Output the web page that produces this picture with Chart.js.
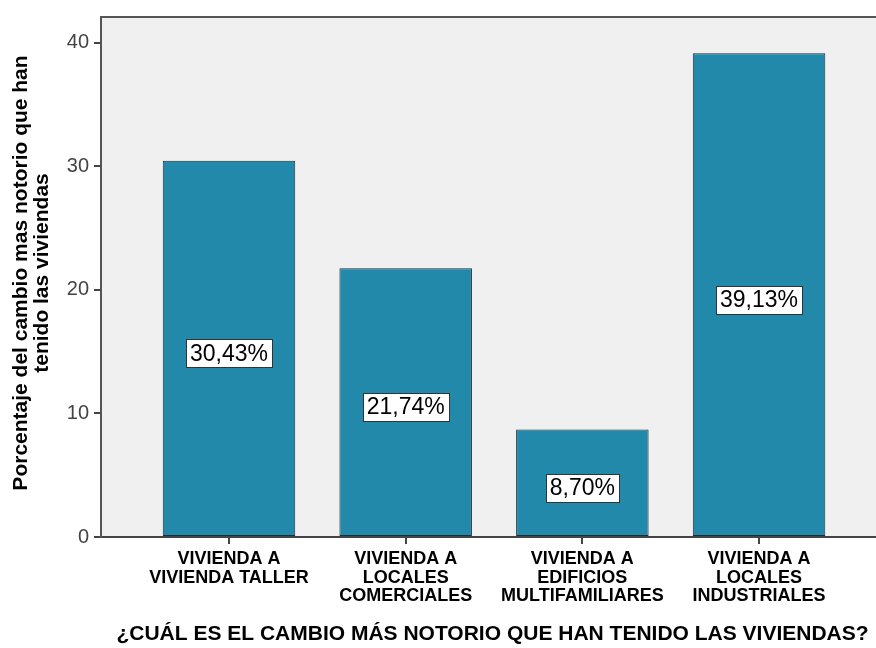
<!DOCTYPE html>
<html>
<head>
<meta charset="utf-8">
<script src="https://cdn.jsdelivr.net/npm/chart.js@4"></script>
<style>
  body { margin: 0; background: #fff; overflow: hidden; }
  #grafico { display: block; }
</style>
</head>
<body>
<canvas id="grafico" width="876" height="648"></canvas>
<script>
// categorías (una línea por elemento del arreglo)
const categorias = [
    ['VIVIENDA A', 'VIVIENDA TALLER'],
    ['VIVIENDA A', 'LOCALES', 'COMERCIALES'],
    ['VIVIENDA A', 'EDIFICIOS', 'MULTIFAMILIARES'],
    ['VIVIENDA A', 'LOCALES', 'INDUSTRIALES']
];
const porcentajes = [30.43, 21.74, 8.70, 39.13];
const etiquetas = ['30,43%', '21,74%', '8,70%', '39,13%'];
const marcasY = [0, 10, 20, 30, 40];

const tituloX = '¿CUÁL ES EL CAMBIO MÁS NOTORIO QUE HAN TENIDO LAS VIVIENDAS?';
const tituloY = ['Porcentaje del cambio mas notorio que han', 'tenido las viviendas'];

const FUENTE = '"Liberation Sans", Arial, sans-serif';

// fondo gris del área de trazado y borde superior
const fondoPlugin = {
    id: 'fondo',
    beforeDraw(chart) {
        const { ctx, chartArea: a } = chart;
        ctx.save();
        ctx.fillStyle = '#f0f0f0';
        ctx.fillRect(a.left, a.top, a.right - a.left, a.bottom - a.top);
        ctx.restore();
    },
    afterDraw(chart) {
        const { ctx, chartArea: a } = chart;
        ctx.save();
        ctx.strokeStyle = '#555';
        ctx.lineWidth = 2;
        ctx.beginPath();
        ctx.moveTo(a.left, a.top);
        ctx.lineTo(a.right, a.top);
        ctx.stroke();
        ctx.restore();
    }
};

// etiquetas con recuadro blanco en el centro de cada barra
const etiquetasPlugin = {
    id: 'etiquetas',
    afterDatasetsDraw(chart) {
        const { ctx } = chart;
        const meta = chart.getDatasetMeta(0);
        ctx.save();
        ctx.font = '23px ' + FUENTE;
        ctx.textAlign = 'center';
        ctx.textBaseline = 'middle';
        meta.data.forEach((bar, i) => {
            const texto = etiquetas[i];
            const cx = bar.x;
            const cy = (bar.y + bar.base) / 2 + 5;
            const w = ctx.measureText(texto).width + 8;
            const h = 28;
            const x0 = Math.round(cx - w / 2);
            const y0 = Math.round(cy - h / 2);
            ctx.fillStyle = '#fff';
            ctx.fillRect(x0, y0, Math.round(w), h);
            ctx.strokeStyle = '#333';
            ctx.lineWidth = 1;
            ctx.strokeRect(x0 + 0.5, y0 + 0.5, Math.round(w), h);
            ctx.fillStyle = '#000';
            ctx.fillText(texto, cx, cy + 1);
        });
        ctx.restore();
    }
};

// títulos de los ejes
const titulosPlugin = {
    id: 'titulos',
    afterDraw(chart) {
        const { ctx, chartArea: a } = chart;
        ctx.save();
        ctx.fillStyle = '#000';
        ctx.textAlign = 'center';
        ctx.textBaseline = 'middle';
        ctx.font = 'bold 21px ' + FUENTE;
        ctx.fillText(tituloX, (a.left + a.right) / 2 + 4, 634);

        ctx.font = 'bold 21px ' + FUENTE;
        ctx.translate(0, 273);
        ctx.rotate(-Math.PI / 2);
        ctx.fillText(tituloY[0], 0, 21);
        ctx.fillText(tituloY[1], 0, 42);
        ctx.restore();
    }
};

const ctx = document.getElementById('grafico').getContext('2d');
new Chart(ctx, {
    type: 'bar',
    data: {
        datasets: [{
            data: porcentajes.map((v, i) => ({ x: i, y: v })),
            backgroundColor: '#2389aa',
            borderColor: '#1e2d36',
            borderWidth: 1,
            borderSkipped: false,
            barPercentage: 0.75,
            categoryPercentage: 1
        }]
    },
    options: {
        responsive: false,
        animation: false,
        layout: { padding: { top: 14, right: 0, left: 0, bottom: 0 } },
        plugins: {
            legend: { display: false },
            tooltip: { enabled: false }
        },
        scales: {
            x: {
                type: 'linear',
                offset: false,
                min: -0.7245,
                max: 3.662,
                afterBuildTicks(scale) {
                    scale.ticks = categorias.map((c, i) => ({ value: i }));
                },
                afterFit(scale) { scale.height = 111; },
                grid: {
                    offset: false,
                    drawOnChartArea: false,
                    tickLength: 7,
                    color: '#444',
                    lineWidth: 2
                },
                border: { display: true, color: '#444', width: 2 },
                ticks: {
                    autoSkip: false,
                    maxRotation: 0,
                    padding: 6,
                    color: '#000',
                    font: { family: FUENTE, size: 18, weight: 'bold', lineHeight: 1.02 },
                    callback: (value) => categorias[value]
                }
            },
            y: {
                min: 0,
                max: 42.07,
                afterBuildTicks(scale) {
                    scale.ticks = marcasY.map(v => ({ value: v }));
                },
                afterFit(scale) { scale.width = 101; },
                grid: {
                    drawOnChartArea: false,
                    tickLength: 7,
                    color: '#444',
                    lineWidth: 2
                },
                border: { display: true, color: '#555', width: 2 },
                ticks: {
                    padding: 5,
                    color: '#444',
                    font: { family: FUENTE, size: 20 }
                }
            }
        }
    },
    plugins: [fondoPlugin, etiquetasPlugin, titulosPlugin]
});
</script>
</body>
</html>
